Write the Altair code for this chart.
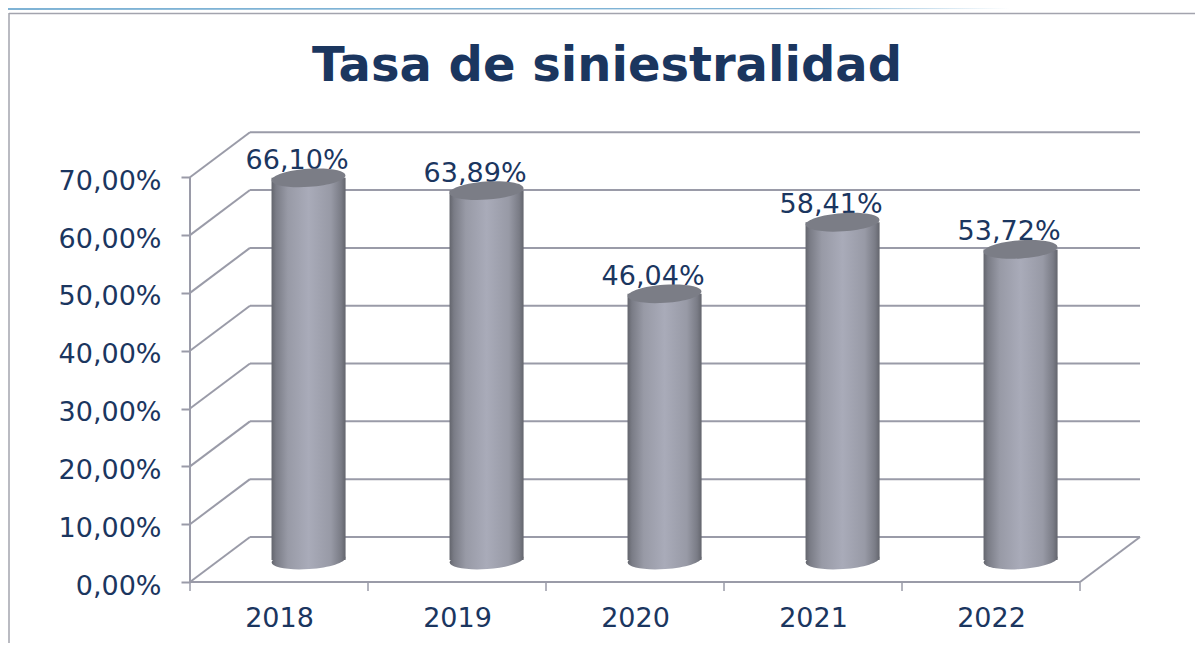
import math
import altair as alt
import pandas as pd

years = ["2018", "2019", "2020", "2021", "2022"]
values = [66.10, 63.89, 46.04, 58.41, 53.72]
labels = ["66,10%", "63,89%", "46,04%", "58,41%", "53,72%"]
y_ticks = [0, 10, 20, 30, 40, 50, 60, 70]
x_bounds = [0, 1, 2, 3, 4, 5]

DEPTH_X = 0.337      # category units of the 3D depth
DEPTH_Y = 7.785      # percent units of the 3D depth
BAR_X = 0.666        # bar centre inside its category
BAR_Y = 3.806        # bar base lifted to mid depth
BAR_HALF = 0.208
INK = "#1b365f"
GRID = "#9a9ba8"
FONT = "DejaVu Sans"


def ellipse_path(ratio=0.245, tilt=-4.0):
    a = math.radians(tilt)
    k = 0.5523

    def p(x, y):
        return f"{x * math.cos(a) - y * math.sin(a):.4f},{x * math.sin(a) + y * math.cos(a):.4f}"

    r = ratio
    return (
        f"M{p(1, 0)}C{p(1, k * r)} {p(k, r)} {p(0, r)}"
        f"C{p(-k, r)} {p(-1, k * r)} {p(-1, 0)}"
        f"C{p(-1, -k * r)} {p(-k, -r)} {p(0, -r)}"
        f"C{p(k, -r)} {p(1, -k * r)} {p(1, 0)}Z"
    )


SHAPE = ellipse_path()
cyl = alt.Gradient(
    gradient="linear", x1=0, x2=1, y1=0, y2=0,
    stops=[
        alt.GradientStop(offset=0, color="#63656d"),
        alt.GradientStop(offset=0.06, color="#7a7c86"),
        alt.GradientStop(offset=0.22, color="#989aa6"),
        alt.GradientStop(offset=0.5, color="#a9abb9"),
        alt.GradientStop(offset=0.8, color="#989aa6"),
        alt.GradientStop(offset=0.94, color="#7a7c86"),
        alt.GradientStop(offset=1, color="#63656d"),
    ],
)

label_expr_y = "replace(format(datum.value,'.2f'),'.',',') + '%'"
label_expr_x = "'' + (2018 + floor(datum.value))"

AX_X = alt.Axis(
    values=[c + 0.5 for c in range(5)], labelExpr=label_expr_x, tickSize=0, domain=False,
    grid=False, labelFont=FONT, labelFontSize=27, labelColor=INK, labelPadding=44,
    labelFlush=False, labelBaseline="alphabetic", title=None,
)
AX_Y = alt.Axis(
    values=y_ticks, labelExpr=label_expr_y, tickSize=9, tickColor=GRID, tickWidth=2,
    domain=False, grid=False, labelFont=FONT, labelFontSize=27, labelColor=INK,
    labelPadding=20, labelFlush=False, labelOffset=4, title=None,
)

xs = alt.Scale(domain=[0, 5 + DEPTH_X], nice=False, zero=False)
ys = alt.Scale(domain=[0, 78], nice=False, zero=False)
X = lambda f: alt.X(f, type="quantitative", scale=xs, axis=AX_X)
Y = lambda f: alt.Y(f, type="quantitative", scale=ys, axis=AX_Y)

bars = pd.DataFrame({
    "year": years,
    "value": values,
    "label": labels,
    "cx": [i + BAR_X for i in range(len(years))],
})
bars["x0"] = bars.cx - BAR_HALF
bars["x1"] = bars.cx + BAR_HALF
bars["base"] = BAR_Y
bars["top"] = bars.value + BAR_Y

grid = pd.DataFrame({"v": y_ticks})
grid["xa"] = 0.0
grid["xb"] = DEPTH_X
grid["xc"] = 5 + DEPTH_X
grid["back"] = grid.v + DEPTH_Y

ticks = pd.DataFrame({"b": x_bounds, "y0": 0.0, "y1": -1.55})
floor = pd.DataFrame({"a": [0.0], "b": [5.0], "c": [5 + DEPTH_X], "y0": [0.0], "y1": [DEPTH_Y], "y70": [70.0]})

decor_left = alt.Chart(grid.head(1)).mark_rule(color="#a3a4ae", strokeWidth=1.5).encode(
    x=alt.value(-181), y=alt.value(-118), y2=alt.value(512)
)
decor_top = alt.Chart(grid.head(1)).mark_rule(color="#a3a4ae", strokeWidth=1.5).encode(
    x=alt.value(-181), x2=alt.value(1005), y=alt.value(-117.5)
)
decor_blue = alt.Chart(grid.head(1)).mark_rule(
    strokeWidth=2,
    stroke=alt.Gradient(
        gradient="linear", x1=0, x2=1, y1=0, y2=0,
        stops=[
            alt.GradientStop(offset=0, color="#7fb3d5"),
            alt.GradientStop(offset=0.8, color="#7fb3d5"),
            alt.GradientStop(offset=1, color="#ffffff"),
        ],
    ),
).encode(x=alt.value(-182), x2=alt.value(820), y=alt.value(-122), y2=alt.value(-123))

back_lines = alt.Chart(grid).mark_rule(color=GRID, strokeWidth=2).encode(
    x=X("xb:Q"), x2="xc:Q", y=Y("back:Q")
)
diag_lines = alt.Chart(grid).mark_rule(color=GRID, strokeWidth=2).encode(
    x=X("xa:Q"), x2="xb:Q", y=Y("v:Q"), y2="back:Q"
)
floor_front = alt.Chart(floor).mark_rule(color=GRID, strokeWidth=2).encode(
    x=X("a:Q"), x2="b:Q", y=Y("y0:Q")
)
floor_right = alt.Chart(floor).mark_rule(color=GRID, strokeWidth=2).encode(
    x=X("b:Q"), x2="c:Q", y=Y("y0:Q"), y2="y1:Q"
)
left_axis = alt.Chart(floor).mark_rule(color=GRID, strokeWidth=2).encode(
    x=X("a:Q"), y=Y("y0:Q"), y2="y70:Q"
)
x_ticks = alt.Chart(ticks).mark_rule(color=GRID, strokeWidth=1.5).encode(
    x=X("b:Q"), y=Y("y0:Q"), y2="y1:Q"
)

value_text = alt.Chart(bars).mark_text(
    font=FONT, fontSize=27, color=INK, dx=-11.5, dy=-17, baseline="middle", align="center"
).encode(x=X("cx:Q"), y=Y("top:Q"), text="label:N")

cyl_bottom = alt.Chart(bars).mark_point(
    shape=SHAPE, size=5476, filled=True, fill=cyl, opacity=1, strokeWidth=0
).encode(x=X("cx:Q"), y=Y("base:Q"))
cyl_body = alt.Chart(bars).mark_bar(fill=cyl).encode(
    x=X("x0:Q"), x2="x1:Q", y=Y("base:Q"), y2="top:Q"
)
cyl_top = alt.Chart(bars).mark_point(
    shape=SHAPE, size=5476, filled=True, fill="#7b7d86", opacity=1, strokeWidth=0
).encode(x=X("cx:Q"), y=Y("top:Q"))

chart = alt.layer(
    back_lines, diag_lines, floor_front, floor_right, left_axis, x_ticks,
    value_text, cyl_bottom, cyl_body, cyl_top,
    decor_blue, decor_top, decor_left,
).properties(
    width=950,
    height=451,
    padding={"left": 182, "top": 123, "right": 55, "bottom": 61},
    autosize=alt.AutoSizeParams(type="none"),
    background="white",
    title=alt.TitleParams(
        "Tasa de siniestralidad", font=FONT, fontSize=48, fontWeight="bold", color=INK,
        anchor="middle", frame="group", dx=-58, dy=122, baseline="alphabetic", offset=0,
    ),
).configure_view(stroke=None)

chart.save("out.html", embed_options={"renderer": "svg", "actions": False})
